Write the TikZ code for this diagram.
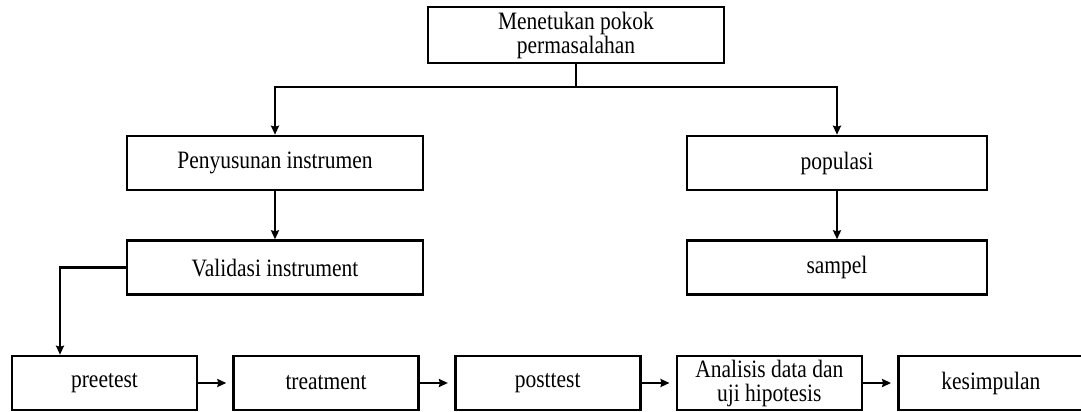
\documentclass[tikz,border=0pt]{standalone}
\usepackage{fontspec}
\setmainfont[FakeStretch=0.86]{Liberation Serif}
\usepackage{tikz}
\usetikzlibrary{arrows.meta,positioning,calc}
\tikzset{
  proc/.style={rectangle,draw=black,line width=2.6pt,minimum width=296pt,minimum height=54pt,
               inner sep=0pt,align=center,font=\fontsize{25}{24}\selectfont},
  procs/.style={proc,minimum width=185pt},
  tran/.style={-{Stealth[length=9pt,width=8pt,inset=1pt]},line width=2.4pt},
  link/.style={line width=2.4pt},
}
\begin{document}
\begin{tikzpicture}[x=1pt,y=1pt,node distance=48pt]
  \useasboundingbox (0,0) rectangle (1081,-412);
  % top and the two branches
  \node[proc,minimum height=56pt] (top) at (576,-35) {Menetukan pokok\\permasalahan};
  \node[proc] (pen) at (275,-163) {Penyusunan instrumen};
  \node[proc,below=of pen] (val) {Validasi instrument};
  \node[proc,minimum width=300pt] (pop) at (837,-163) {populasi};
  \node[proc,minimum width=300pt,below=of pop] (sam) {sampel};
  % bottom row
  \node[procs] (pre) at (104.5,-383) {preetest};
  \node[procs,right=34pt of pre] (trt) {treatment};
  \node[procs,right=34pt of trt] (post) {posttest};
  \node[procs,right=34pt of post] (ana) {Analisis data dan\\uji hipotesis};
  \node[procs,right=34pt of ana] (kes) {kesimpulan};
  \coordinate (split) at (576,-87);
  \coordinate (side) at (60,-264);
  \draw[link] (top.south) -- (split);
  \draw[tran] (split) -| (pen.north);
  \draw[tran] (split) -| (pop.north);
  \draw[tran] (pen) -- (val);
  \draw[tran] (pop) -- (sam);
  \draw[tran] (val.west) -- (val.west -| side) -- (side |- pre.north);
  \draw[tran,shorten >=6pt] (pre) -- (trt);
  \draw[tran,shorten >=6pt] (trt) -- (post);
  \draw[tran,shorten >=6pt] (post) -- (ana);
  \draw[tran,shorten >=6pt] (ana) -- (kes);
\end{tikzpicture}
\end{document}
